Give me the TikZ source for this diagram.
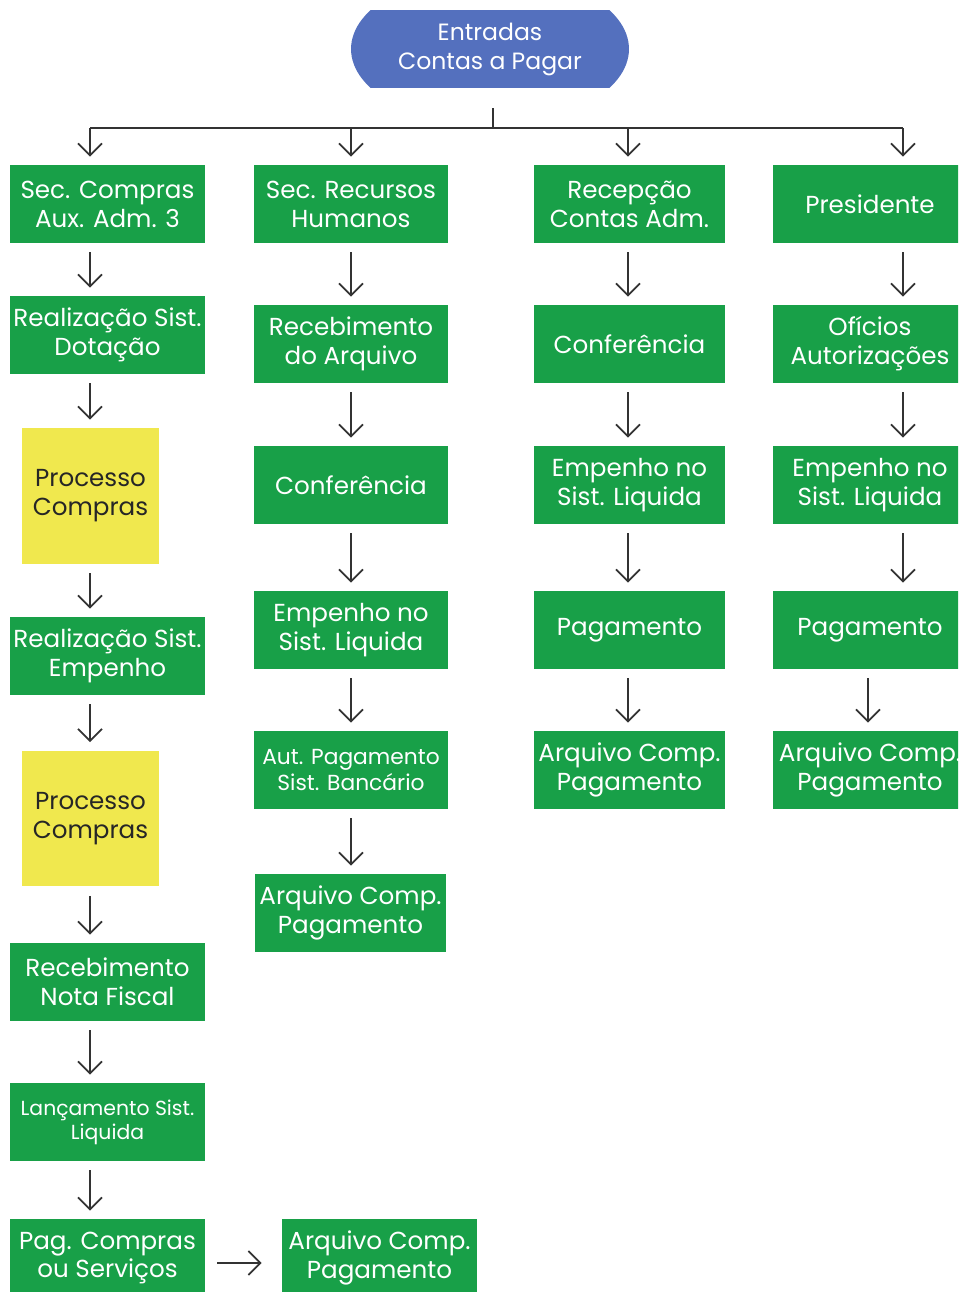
\documentclass[tikz,border=0pt]{standalone}
\usepackage{fontspec}
\setmainfont{Poppins}
\usetikzlibrary{arrows.meta}

\definecolor{boxgreen}{HTML}{18A048}
\definecolor{boxyellow}{HTML}{F0E84E}
\definecolor{topblue}{HTML}{5470BE}
\definecolor{linegray}{HTML}{333333}

\tikzset{
  gbox/.style={fill=boxgreen, text=white, minimum width=3.9cm, minimum height=1.56cm,
    inner sep=0pt, align=center, font=\fontsize{14}{16.5}\selectfont},
  ybox/.style={fill=boxyellow, text=black!85, minimum width=2.74cm, minimum height=2.72cm,
    inner sep=0pt, align=center, font=\fontsize{14}{16.5}\selectfont},
  smalltext/.style={font=\fontsize{11.6}{13.6}\selectfont},
  midtext/.style={font=\fontsize{12.4}{14.7}\selectfont},
  bus/.style={draw=linegray, line width=0.036cm},
  flow/.style={bus, -{Straight Barb[length=0.24cm,width=0.48cm]},
    shorten <=0.18cm, shorten >=0.16cm}
}

\begin{document}
\begin{tikzpicture}[x=0.02cm, y=-0.02cm]

\useasboundingbox (0,0) rectangle (958,1292);
\clip (0,0) rectangle (958,1292);

% top entry
\node[text=white, minimum width=5.56cm, minimum height=1.56cm, inner sep=0pt, align=center,
  font=\fontsize{13.4}{16.5}\selectfont,
  path picture={\fill[topblue] (path picture bounding box.center) ellipse (2.78cm and 1.52cm);}]
  (entradas) at (490,49) {Entradas\\Contas a Pagar};

% arrow columns
\coordinate (hub) at (493,128);
\coordinate (k1) at (90,0);
\coordinate (k2) at (351,0);
\coordinate (k3) at (628,0);
\coordinate (k4) at (903,0);
\coordinate (k4b) at (868,0);

% column 1
\node[gbox] (a1) at (107.5,204) {Sec. Compras\\Aux. Adm. 3};
\node[gbox] (a2) at (107.5,335) {Realização Sist.\\Dotação};
\node[ybox] (a3) at (90.5,496) {Processo\\Compras};
\node[gbox] (a4) at (107.5,656) {Realização Sist.\\Empenho};
\node[ybox] (a5) at (90.5,818.5) {Processo\\Compras};
\node[gbox] (a6) at (107.5,982) {Recebimento\\Nota Fiscal};
\node[gbox, smalltext] (a7) at (107.5,1122) {\raisebox{0.1cm}{\parbox{3.9cm}{\centering Lançamento Sist.\\Liquida}}};
\node[gbox] (a8) at (107.5,1258) {Pag. Compras\\ou Serviços};
\node[gbox] (a9) at (379.5,1258) {Arquivo Comp.\\Pagamento};

% column 2
\node[gbox] (b1) at (351,204) {Sec. Recursos\\Humanos};
\node[gbox] (b2) at (351,344) {Recebimento\\do Arquivo};
\node[gbox] (b3) at (351,485) {Conferência};
\node[gbox] (b4) at (351,630) {Empenho no\\Sist. Liquida};
\node[gbox, midtext] (b5) at (351,770) {\raisebox{0.06cm}{\parbox{3.9cm}{\centering Aut. Pagamento\\Sist. Bancário}}};
\node[gbox, minimum width=3.82cm] (b6) at (350.5,913) {Arquivo Comp.\\Pagamento};

% column 3
\node[gbox, minimum width=3.82cm] (c1) at (629.5,204) {Recepção\\Contas Adm.};
\node[gbox, minimum width=3.82cm] (c2) at (629.5,344) {Conferência};
\node[gbox, minimum width=3.82cm] (c3) at (629.5,485) {Empenho no\\Sist. Liquida};
\node[gbox, minimum width=3.82cm] (c4) at (629.5,630) {Pagamento};
\node[gbox, minimum width=3.82cm] (c5) at (629.5,770) {Arquivo Comp.\\Pagamento};

% column 4
\node[gbox] (d1) at (870,204) {Presidente};
\node[gbox] (d2) at (870,344) {Ofícios\\Autorizações};
\node[gbox] (d3) at (870,485) {Empenho no\\Sist. Liquida};
\node[gbox] (d4) at (870,630) {Pagamento};
\node[gbox] (d5) at (870,770) {Arquivo Comp.\\Pagamento};

% distribution bar
\draw[bus, shorten <=0.4cm] (entradas.south -| hub) -- (hub);
\draw[bus] (k1 |- hub) -- (k4 |- hub);
\foreach \k/\n in {k1/a1, k2/b1, k3/c1, k4/d1}
  \draw[flow, shorten <=0pt] (\k |- hub) -- (\n.north -| \k);

% vertical flows
\foreach \a/\b in {a1/a2, a2/a3, a3/a4, a4/a5, a5/a6, a6/a7, a7/a8}
  \draw[flow] (\a.south -| k1) -- (\b.north -| k1);
\foreach \a/\b in {b1/b2, b2/b3, b3/b4, b4/b5, b5/b6}
  \draw[flow] (\a.south -| k2) -- (\b.north -| k2);
\foreach \a/\b in {c1/c2, c2/c3, c3/c4, c4/c5}
  \draw[flow] (\a.south -| k3) -- (\b.north -| k3);
\foreach \a/\b in {d1/d2, d2/d3, d3/d4}
  \draw[flow] (\a.south -| k4) -- (\b.north -| k4);
\draw[flow] (d4.south -| k4b) -- (d5.north -| k4b);

% last step
\draw[flow, shorten <=0.24cm, shorten >=0.4cm] ([yshift=-0.1cm]a8.east) -- ([yshift=-0.1cm]a9.west);

\end{tikzpicture}
\end{document}
